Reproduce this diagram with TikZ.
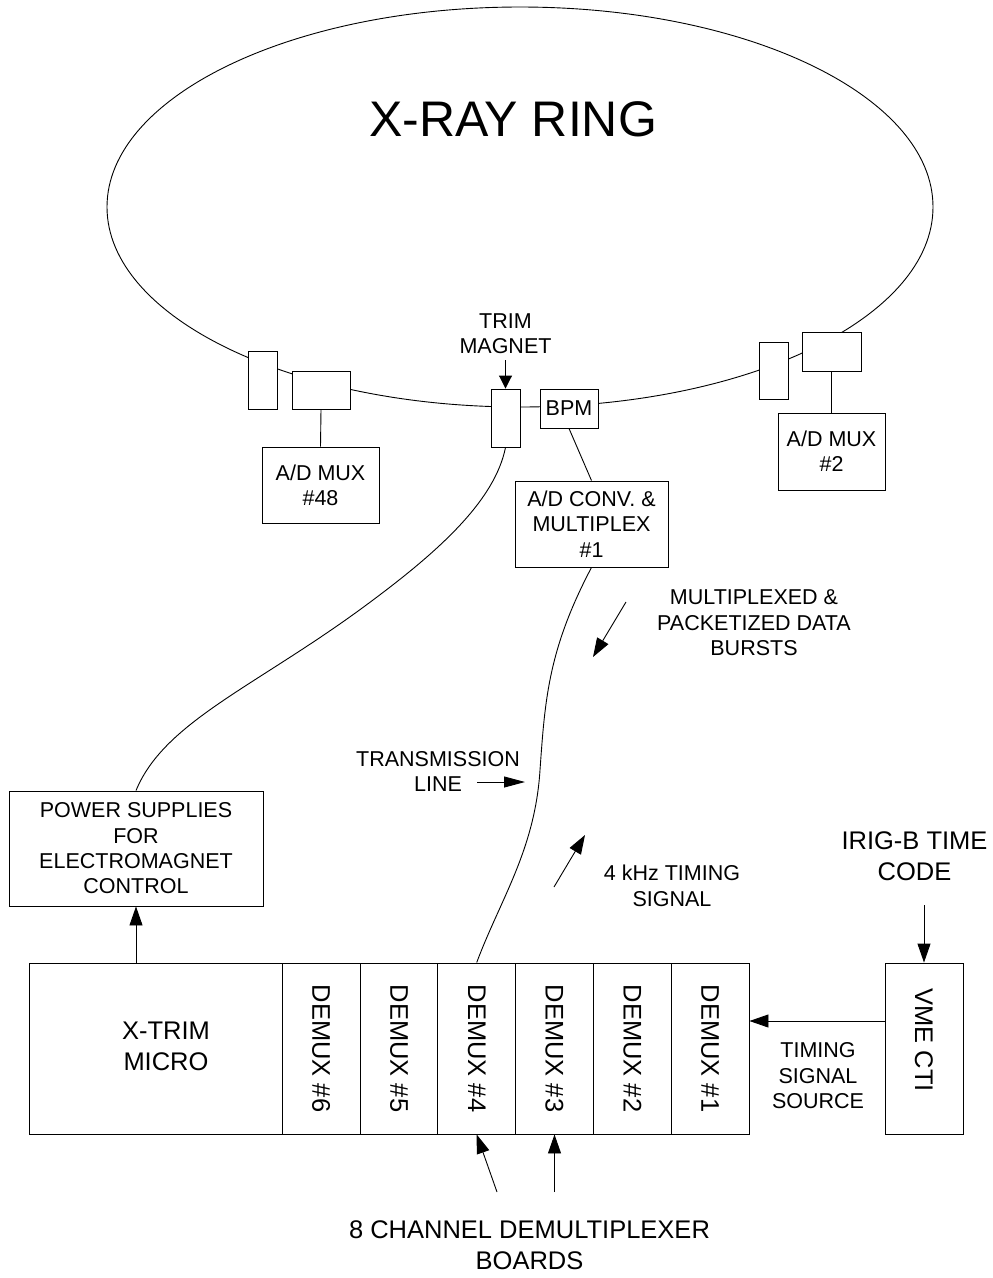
\documentclass[tikz,border=0pt]{standalone}
\usepackage{fontspec}
\setmainfont{Liberation Sans}
\usepackage{tikz}
\usetikzlibrary{arrows.meta,shapes.geometric}
\newcommand\smallfs{\fontsize{21.5}{25.3}\selectfont}
\newcommand\bigfs{\fontsize{25.5}{31}\selectfont}
\newcommand\titlefs{\fontsize{50}{60}\selectfont}
\tikzset{
  wire/.style={line width=0.9pt},
  box/.style={draw,fill=white,wire,inner sep=0pt,align=center,font=\smallfs},
  slot/.style={box,rotate=-90,minimum width=171pt,minimum height=77.8pt,font=\bigfs},
  lbl/.style={inner sep=0pt,align=center,font=\smallfs},
  biglbl/.style={lbl,font=\bigfs},
  arr/.style={wire,-{Triangle[length=19pt,width=13pt]}},
}

\begin{document}
\begin{tikzpicture}[x=1pt,y=-1pt]
  \useasboundingbox (0,0) rectangle (993,1278);
  \node[draw,wire,ellipse,inner sep=0pt,minimum width=826pt,minimum height=400pt] (ring) at (520,207) {};
  \node[lbl,font=\titlefs] (title) at (513,119) {X-RAY RING};

  \node[box,minimum width=29pt,minimum height=58pt] (lv) at (262.5,380) {};
  \node[box,minimum width=58pt,minimum height=38pt] (lh) at (321,390) {};
  \node[box,minimum width=117pt,minimum height=76pt] (mux48) at (320.5,485) {A/D MUX\\\#48};
  \node[box,minimum width=29pt,minimum height=58pt] (trim) at (505.5,418) {};
  \node[box,minimum width=58pt,minimum height=39pt] (bpm) at (569,408.5) {BPM};
  \node[box,minimum width=153pt,minimum height=86pt] (adconv) at (591.5,524) {A/D CONV. \&\\MULTIPLEX\\\#1};
  \node[box,minimum width=29pt,minimum height=57pt] (rv) at (773.5,370.5) {};
  \node[box,minimum width=59pt,minimum height=39pt] (rh) at (831.5,351.5) {};
  \node[box,minimum width=107pt,minimum height=77pt] (mux2) at (831.5,451.5) {A/D MUX\\\#2};
  \draw[wire] (lh.south) -- (mux48.north);
  \draw[wire] (rh.south) -- (mux2.north);
  \draw[wire] (bpm.south) -- (adconv.north);

  \node[lbl] (trimlbl) at (505.5,334) {TRIM\\MAGNET};
  \coordinate (trimtail) at (505.5,360);
  \draw[wire,-{Triangle[length=13pt,width=13pt]}] (trimtail) -- (trim.north);

  \node[box,minimum width=254pt,minimum height=115pt] (psu) at (136,848.5)
    {POWER SUPPLIES\\FOR\\ELECTROMAGNET\\CONTROL};
  \node[box,minimum width=253pt,minimum height=171pt] (micro) at (155.5,1048.5) {};
  \node[biglbl] (microlbl) at (166,1046) {X-TRIM\\MICRO};
  \foreach \i in {1,...,6}
    \node[slot] (dm\i) at ({749-(\i-0.5)*77.8},1048.5) {DEMUX \#\i};
  \node[box,minimum width=78pt,minimum height=171pt] (vme) at (924,1048.5) {};
  \node[biglbl,rotate=-90] (vmelbl) at (924,1040) {VME CTI};

  \draw[wire] (psu.north) .. controls (165,720) and (260,685) .. (373,600)
    .. controls (440,550) and (495,500) .. (trim.south);
  \draw[wire] (adconv.south) .. controls (548,650) and (545,700) .. (540,770)
    .. controls (535,850) and (500,900) .. (dm4.west);
  \draw[arr] (micro.north -| psu.south) -- (psu.south);

  \node[lbl] (mplbl) at (754,622.8) {MULTIPLEXED \&\\PACKETIZED DATA\\BURSTS};
  \coordinate (mptail) at (626,602);
  \coordinate (mptip) at (593,657);
  \draw[arr] (mptail) -- (mptip);
  \node[lbl] (txlbl) at (438,771.3) {TRANSMISSION\\LINE};
  \coordinate (txtail) at (477,782);
  \coordinate (txtip) at (525,782);
  \draw[wire,-{Triangle[length=21pt,width=11pt]}] (txtail) -- (txtip);
  \node[lbl] (khzlbl) at (672,885.8) {4 kHz TIMING\\SIGNAL};
  \coordinate (khztail) at (554,887);
  \coordinate (khztip) at (585,835);
  \draw[arr] (khztail) -- (khztip);

  \node[biglbl] (iriglbl) at (914.5,856.3) {IRIG-B TIME\\CODE};
  \coordinate (irigtail) at (924,905);
  \draw[arr] (irigtail) -- (vme.north);
  \coordinate (tsig) at (885,1021);
  \draw[arr] (tsig) -- (tsig -| dm1.north);
  \node[lbl] (tslbl) at (818,1075.8) {TIMING\\SIGNAL\\SOURCE};

  \coordinate (bt4) at (497,1192);
  \coordinate (bt3) at (554.5,1192);
  \draw[arr] (bt4) -- (dm4.east);
  \draw[arr] (bt3) -- (dm3.east);
  \node[biglbl] (boardslbl) at (529.5,1245.4) {8 CHANNEL DEMULTIPLEXER\\BOARDS};
\end{tikzpicture}
\end{document}
